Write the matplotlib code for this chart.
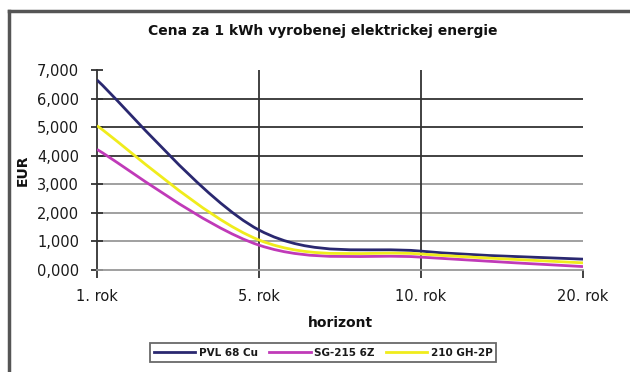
import matplotlib
matplotlib.use("Agg")
import matplotlib.pyplot as plt
from matplotlib.path import Path
from matplotlib.patches import PathPatch
from matplotlib.lines import Line2D

categories = ["1. rok", "5. rok", "10. rok", "20. rok"]
pvl = [6.65, 1.40, 0.66, 0.38]
sg = [4.22, 0.87, 0.45, 0.12]
gh = [5.05, 1.05, 0.56, 0.25]
series_names = ["PVL 68 Cu", "SG-215 6Z", "210 GH-2P"]
series_colors = ["#2a2870", "#c03ab8", "#f0ec1c"]
yticks = [0, 1, 2, 3, 4, 5, 6, 7]
ytick_labels = ["0,000", "1,000", "2,000", "3,000", "4,000", "5,000", "6,000", "7,000"]
title = "Cena za 1 kWh vyrobenej elektrickej energie"

fig = plt.figure(figsize=(6.3, 3.72), dpi=100)
ax = fig.add_axes([97/630, 1-270/372, (583-97)/630, 200/372])

x = list(range(len(categories)))


def smooth_path(xs, ys):
    verts = [(xs[0], ys[0])]
    codes = [Path.MOVETO]
    n = len(xs)
    for i in range(n - 1):
        p0 = (xs[max(i - 1, 0)], ys[max(i - 1, 0)])
        p1 = (xs[i], ys[i])
        p2 = (xs[i + 1], ys[i + 1])
        p3 = (xs[min(i + 2, n - 1)], ys[min(i + 2, n - 1)])
        c1 = (p1[0] + (p2[0] - p0[0]) / 6, p1[1] + (p2[1] - p0[1]) / 6)
        c2 = (p2[0] - (p3[0] - p1[0]) / 6, p2[1] - (p3[1] - p1[1]) / 6)
        verts += [c1, c2, p2]
        codes += [Path.CURVE4] * 3
    return Path(verts, codes)


for ys, c, name in zip([pvl, sg, gh], series_colors, series_names):
    patch = PathPatch(smooth_path(x, ys), facecolor="none", edgecolor=c, lw=2.0, zorder=3)
    ax.add_patch(patch)
    ax.plot([], [], color=c, lw=2.0, label=name)

ax.set_xlim(0, 3)
ax.set_ylim(0, 7)
ax.set_yticks(yticks)
ax.set_yticklabels(ytick_labels)
ax.set_xticks(x)
ax.set_xticklabels(categories)

# grid
for yv in yticks[1:-1]:
    col = "#333333" if yv >= 4 else "#999999"
    ax.axhline(yv, color=col, lw=1.3, zorder=1)
for xv in x[1:-1]:
    ax.axvline(xv, color="#333333", lw=1.3, zorder=1)

for s in ["top", "right"]:
    ax.spines[s].set_visible(False)
ax.spines["left"].set_color("#333333")
ax.spines["left"].set_linewidth(1.3)
ax.spines["bottom"].set_color("#999999")
ax.spines["bottom"].set_linewidth(1.3)
ax.tick_params(axis="y", direction="inout", length=8, width=1.3, color="#333333",
               labelsize=10.5, pad=9, labelcolor="#1a1a1a")
ax.tick_params(axis="x", direction="out", length=6, width=1.3, color="#333333",
               labelsize=10.5, pad=8, labelcolor="#1a1a1a")

ax.set_ylabel("EUR", fontsize=10, fontweight="bold", labelpad=5, color="#111111")
ax.set_xlabel("horizont", fontsize=10, fontweight="bold", labelpad=8, color="#111111")

fig.text(323/630, 1-31/372, title, ha="center", va="center", fontsize=10,
         fontweight="bold", color="#111111")

leg = fig.legend(loc="center", bbox_to_anchor=(323/630, 1-352.5/372), ncol=3,
                 frameon=True, fancybox=False, handlelength=4.0,
                 handletextpad=0.3, columnspacing=1.1, borderpad=0.4,
                 prop={"weight": "bold", "size": 7.5})
leg.get_frame().set_edgecolor("#444444")
leg.get_frame().set_linewidth(1.3)
for t in leg.get_texts():
    t.set_color("#1a1a1a")

# outer border (top and left)
fig.add_artist(Line2D([9/630, 1], [1-11/372, 1-11/372], transform=fig.transFigure,
                      color="#555555", lw=2.5))
fig.add_artist(Line2D([9/630, 9/630], [0, 1-11/372], transform=fig.transFigure,
                      color="#555555", lw=2.5))

fig.savefig("out.png", dpi=100)
